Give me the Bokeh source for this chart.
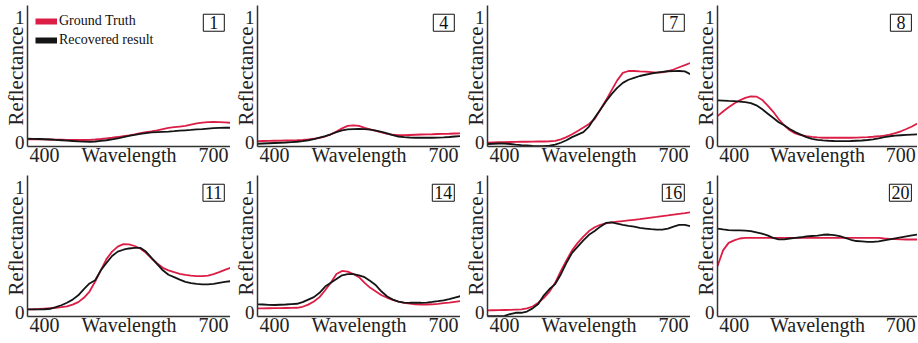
from bokeh.plotting import figure
from bokeh.layouts import gridplot
from bokeh.models import FixedTicker, Range1d, Label, Legend, LegendItem
from bokeh.embed import file_html
from bokeh.resources import INLINE

wavelengths = list(range(370, 731, 10))
panel_ids = ["1", "4", "7", "8", "11", "14", "16", "20"]
legend_labels = ["Ground Truth", "Recovered result"]
x_ticks = [400, 550, 700]
y_ticks = [0, 1]

gt_1 = [.027, .027, .027, .027, .026, .025, .024, .023, .022, .022, .022, .023, .026, .03, .035, .04, .046, .053, .06,
        .068, .077, .085, .092, .1, .11, .12, .125, .13, .135, .145, .155, .162, .166, .168, .166, .163, .16]
rec_1 = [.032, .031, .03, .028, .026, .023, .02, .017, .014, .011, .009, .008, .01, .015, .02, .028, .036, .045, .055,
         .063, .072, .078, .083, .086, .088, .09, .093, .097, .1, .103, .107, .11, .114, .117, .12, .121, .12]
gt_4 = [.013, .014, .015, .016, .017, .018, .019, .02, .022, .026, .032, .04, .05, .067, .09, .115, .135, .14, .135,
        .12, .107, .095, .083, .072, .064, .06, .06, .062, .064, .066, .067, .068, .07, .071, .072, .074, .075]
rec_4 = [-.008, -.006, -.004, -.002, .0, .002, .005, .008, .013, .02, .03, .042, .053, .068, .085, .1, .108, .11, .111,
         .11, .105, .097, .087, .075, .062, .05, .045, .042, .04, .04, .04, .04, .041, .043, .046, .05, .053]
gt_7 = [.0, .002, .004, .005, .006, .007, .008, .008, .009, .01, .01, .012, .015, .027, .045, .068, .095, .122, .15,
        .19, .265, .34, .42, .5, .56, .575, .575, .572, .57, .566, .562, .565, .575, .587, .605, .622, .64]
rec_7 = [-.01, -.008, -.006, -.006, -.01, -.015, -.019, -.022, -.025, -.027, -.027, -.024, -.015, .0, .02, .045, .065,
         .085, .13, .2, .265, .33, .39, .44, .48, .505, .52, .535, .545, .555, .562, .568, .573, .574, .575, .572, .55]
gt_8 = [.213, .25, .285, .315, .34, .36, .372, .37, .345, .3, .25, .19, .14, .1, .075, .062, .053, .047, .043, .04,
        .04, .04, .04, .04, .04, .041, .043, .045, .048, .052, .058, .066, .077, .092, .11, .13, .155]
rec_8 = [.34, .338, .335, .333, .33, .325, .318, .3, .27, .235, .2, .165, .14, .11, .085, .065, .045, .032, .023, .019,
         .016, .014, .013, .013, .014, .016, .018, .022, .027, .035, .045, .052, .057, .06, .063, .065, .067]
gt_11 = [.027, .028, .03, .033, .036, .04, .045, .052, .065, .085, .12, .17, .25, .34, .43, .49, .53, .55, .548, .535,
         .515, .48, .435, .395, .36, .34, .325, .312, .303, .297, .293, .294, .298, .31, .325, .343, .36]
rec_11 = [.027, .027, .027, .028, .032, .045, .06, .08, .105, .14, .19, .235, .26, .34, .4, .455, .49, .505, .515, .52,
          .52, .49, .44, .39, .34, .305, .285, .265, .248, .238, .232, .228, .227, .232, .24, .248, .253]
gt_14 = [.035, .035, .036, .037, .037, .038, .039, .04, .048, .065, .09, .125, .18, .24, .31, .335, .33, .31, .285,
         .24, .2, .17, .14, .12, .103, .09, .08, .073, .068, .066, .066, .068, .072, .077, .082, .088, .093]
rec_14 = [.067, .066, .063, .062, .064, .066, .069, .072, .085, .105, .125, .16, .21, .24, .27, .3, .31, .31, .3, .285,
          .255, .22, .17, .13, .105, .09, .082, .08, .08, .08, .082, .087, .093, .1, .11, .122, .133]
gt_16 = [.019, .02, .021, .022, .023, .025, .027, .035, .05, .08, .12, .17, .24, .333, .42, .5, .56, .61, .655, .685,
         .705, .717, .724, .73, .735, .74, .745, .75, .757, .763, .768, .775, .78, .786, .792, .798, .805]
rec_16 = [-.027, -.027, -.027, -.025, -.01, .0, .0, .01, .035, .07, .14, .19, .23, .307, .4, .48, .53, .58, .625,
          .655, .69, .72, .725, .715, .705, .697, .69, .68, .675, .67, .667, .667, .675, .69, .705, .705, .693]
gt_20 = [.373, .5, .56, .58, .595, .6, .6, .6, .6, .6, .6, .6, .6, .6, .6, .6, .6, .6, .6, .6, .6, .6, .6, .6, .6,
         .6, .6, .6, .6, .6, .595, .592, .59, .588, .587, .587, .587]
rec_20 = [.675, .668, .662, .66, .66, .659, .655, .645, .635, .62, .6, .588, .588, .595, .6, .605, .612, .615, .618,
          .625, .627, .622, .615, .6, .585, .575, .572, .568, .568, .572, .58, .588, .597, .605, .613, .62, .627]

ground_truth = [gt_1, gt_4, gt_7, gt_8, gt_11, gt_14, gt_16, gt_20]
recovered = [rec_1, rec_4, rec_7, rec_8, rec_11, rec_14, rec_16, rec_20]

RED = "#dc1e46"
BLACK = "#151515"
FONT = "Liberation Serif"
NAN = float("nan")

figs = []
for i, pid in enumerate(panel_ids):
    row, col = divmod(i, 4)
    w = 230 if col < 3 else 227
    h = 170 if row == 0 else 172
    p = figure(width=w, height=h, output_backend="svg", toolbar_location=None,
               x_range=Range1d(370, 730), y_range=Range1d(-0.03, 1.1),
               min_border_left=27, min_border_right=0, min_border_top=5,
               min_border_bottom=24 if row == 0 else 26)
    p.outline_line_color = None
    p.grid.visible = False
    p.background_fill_color = "white"
    p.border_fill_color = "white"

    p.line(wavelengths, ground_truth[i], color=RED, line_width=1.8)
    p.line(wavelengths, recovered[i], color=BLACK, line_width=1.8)

    for ax in (p.xaxis[0], p.yaxis[0]):
        ax.axis_line_color = "#333333"
        ax.axis_line_width = 1.5
        ax.major_tick_in = 0
        ax.major_tick_out = 0
        ax.minor_tick_line_color = None
        ax.major_label_text_font = FONT
        ax.major_label_text_color = "#222222"
    p.xaxis.axis_label = None
    p.xaxis.axis_label_standoff = 0
    p.xaxis.major_label_text_font_size = "20px"
    p.yaxis.major_label_text_font_size = "19px"
    p.xaxis.ticker = FixedTicker(ticks=x_ticks)
    p.xaxis.major_label_overrides = {550: "Wavelength"}
    p.xaxis.major_label_standoff = -3
    p.yaxis.ticker = FixedTicker(ticks=y_ticks)
    p.yaxis.major_label_standoff = 3
    p.yaxis.axis_label = "Reflectance"
    p.yaxis.axis_label_text_font = FONT
    p.yaxis.axis_label_text_font_size = "21px"
    p.yaxis.axis_label_text_font_style = "normal"
    p.yaxis.axis_label_text_color = "#222222"
    p.yaxis.axis_label_standoff = -16

    pad_x = 6 if len(pid) == 1 else 2
    p.add_layout(Label(x=719, y=1.03, text=pid, text_align="right", text_baseline="top",
                       text_font=FONT, text_font_size="18px", text_color="#111111",
                       border_line_color="#111111", border_line_width=1,
                       background_fill_color="white", padding=(pad_x, 2)))

    if i == 0:
        r_gt = p.line(x=[NAN], y=[NAN], color=RED, line_width=6)
        r_rec = p.line(x=[NAN], y=[NAN], color=BLACK, line_width=6)
        legend = Legend(items=[LegendItem(label=legend_labels[0], renderers=[r_gt]),
                               LegendItem(label=legend_labels[1], renderers=[r_rec])],
                        location="top_left")
        legend.label_text_font = FONT
        legend.label_text_font_size = "14px"
        legend.label_text_color = "#111111"
        legend.glyph_width = 22
        legend.glyph_height = 12
        legend.label_height = 16
        legend.label_standoff = 2
        legend.spacing = 3
        legend.margin = 6
        legend.padding = 2
        legend.background_fill_alpha = 0
        legend.border_line_alpha = 0
        p.add_layout(legend)
    figs.append(p)

grid = gridplot([figs[:4], figs[4:]], toolbar_location=None)
open("out.html", "w").write(file_html(grid, INLINE))
